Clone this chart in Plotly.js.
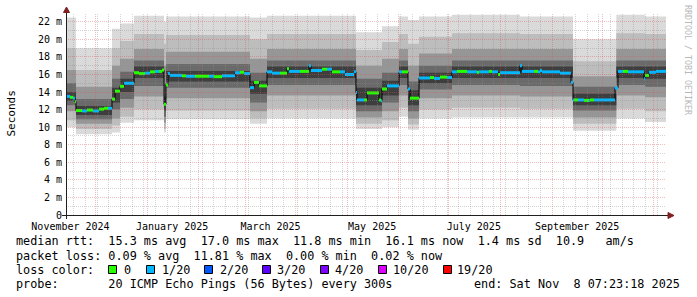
<!DOCTYPE html>
<html><head><meta charset="utf-8">
<script src="https://cdn.plot.ly/plotly-3.0.1.min.js"></script>
<style>html,body{margin:0;padding:0;background:#fff;}#chart{width:697px;height:297px;}</style>
</head><body><div id="chart"></div>
<script>
// ---------------- data ----------------
const startTime = "2024-11-13 07:23:18";
const endTime = "2025-11-08 07:23:18";

const xTickVals = ["2024-11-16","2025-01-16","2025-03-16","2025-05-16","2025-07-16","2025-09-16"];
const xTickText = ["November 2024","January 2025","March 2025","May 2025","July 2025","September 2025"];
const yTickVals = [0,2,4,6,8,10,12,14,16,18,20,22];
const yTickText = ["0","2 m","4 m","6 m","8 m","10 m","12 m","14 m","16 m","18 m","20 m","22 m"];

// smoke segments (start times) and band limits (milliseconds)
const smokeStart = ["2024-11-13 07:23","2024-11-19 07:00","2024-12-10 22:00","2024-12-15 17:00","2024-12-24 03:00",
  "2025-01-11 03:00","2025-01-12 07:00","2025-03-03 17:00","2025-03-13 22:00","2025-05-06 07:00",
  "2025-05-21 22:00","2025-06-01 03:00","2025-06-06 12:00","2025-06-13 03:00","2025-07-02 22:00",
  "2025-08-12 17:00","2025-09-13 12:00","2025-10-09 12:00","2025-10-26 17:00"];
const smokeLo1 = [10.0, 9.2, 9.4,10.5,10.8, 9.4,10.9,10.4,11.0, 9.8,10.0,11.2, 9.7,11.0,11.1,11.1, 9.6,11.0,10.6];
const smokeLo2 = [10.8, 9.8,10.2,11.2,12.0, 9.8,11.9,11.0,12.1,10.4,10.8,12.2,10.3,12.0,12.2,12.1,10.4,12.1,11.8];
const smokeLo3 = [11.8,10.4,11.0,12.2,13.5,10.5,13.3,11.8,13.6,11.1,11.8,13.6,11.0,13.3,13.6,13.5,11.1,13.6,13.4];
const smokeLo4 = [12.5,10.9,12.0,13.2,14.7,11.2,14.5,12.8,14.8,11.8,12.8,14.8,11.8,14.3,14.8,14.7,11.9,14.8,14.6];
const smokeLo5 = [13.0,11.4,12.8,14.0,15.6,11.9,15.2,13.8,15.6,12.5,13.6,15.6,12.5,15.0,15.6,15.6,12.5,15.6,15.5];
const smokeHi5 = [14.0,12.4,14.5,15.5,16.9,13.5,16.4,15.3,16.9,14.5,15.3,16.9,14.2,16.2,16.9,16.9,13.8,16.9,16.9];
const smokeHi4 = [15.0,13.2,15.5,16.3,17.6,15.0,17.2,16.2,17.6,15.5,16.2,17.6,15.2,17.0,17.6,17.6,14.6,17.6,17.6];
const smokeHi3 = [16.5,14.6,17.0,17.8,18.9,17.0,18.6,17.8,18.9,17.0,17.8,18.9,17.0,18.4,18.9,18.9,15.8,18.9,18.9];
const smokeHi2 = [19.0,16.5,19.0,19.8,20.6,19.5,20.5,20.0,20.6,18.8,19.7,20.6,19.5,20.3,20.7,20.6,17.5,20.7,20.6];
const smokeHi1 = [22.5,19.0,21.2,21.8,22.7,22.0,22.6,22.5,22.7,20.8,21.5,22.6,22.2,22.6,22.8,22.6,20.0,22.8,22.6];

// median rtt segments (ms) and lost pings (of 20)
const medStart = [
 "2024-11-13 07:23","2024-11-15 17:00","2024-11-17 12:00","2024-11-18 17:00","2024-11-19 07:00","2024-11-22 22:00","2024-11-25 22:00","2024-11-29 12:00","2024-12-03 03:00","2024-12-06 03:00",
 "2024-12-08 12:00","2024-12-10 22:00","2024-12-12 17:00","2024-12-15 17:00","2024-12-18 03:00","2024-12-24 03:00","2024-12-27 03:00","2024-12-30 17:00","2025-01-02 17:00","2025-01-05 17:00",
 "2025-01-08 03:00","2025-01-09 22:00","2025-01-11 03:00","2025-01-12 07:00","2025-01-13 12:00","2025-01-14 17:00","2025-01-21 22:00","2025-01-24 07:00","2025-01-29 17:00","2025-02-07 03:00",
 "2025-02-10 03:00","2025-02-14 22:00","2025-02-22 17:00","2025-02-25 17:00","2025-02-28 03:00","2025-03-03 17:00","2025-03-06 03:00","2025-03-09 03:00","2025-03-13 22:00","2025-03-16 22:00",
 "2025-03-21 17:00","2025-03-25 22:00","2025-03-27 03:00","2025-04-02 17:00","2025-04-08 03:00","2025-04-09 07:00","2025-04-15 22:00","2025-04-18 22:00","2025-04-21 22:00","2025-04-26 17:00",
 "2025-04-29 17:00","2025-05-05 03:00","2025-05-06 07:00","2025-05-06 22:00","2025-05-11 03:00","2025-05-12 22:00","2025-05-20 03:00","2025-05-21 07:00","2025-05-21 22:00","2025-05-24 22:00",
 "2025-06-01 03:00","2025-06-02 22:00","2025-06-06 12:00","2025-06-07 17:00","2025-06-13 03:00","2025-06-19 17:00","2025-06-22 03:00","2025-06-25 17:00","2025-06-29 22:00","2025-07-02 22:00",
 "2025-07-05 22:00","2025-07-11 22:00","2025-07-17 22:00","2025-07-19 03:00","2025-07-25 03:00","2025-07-26 22:00","2025-07-30 12:00","2025-07-31 17:00","2025-08-12 17:00","2025-08-13 22:00",
 "2025-08-21 03:00","2025-08-23 12:00","2025-08-24 17:00","2025-08-25 22:00","2025-09-05 17:00","2025-09-12 07:00","2025-09-13 12:00","2025-09-14 03:00","2025-09-16 12:00","2025-09-20 03:00",
 "2025-09-23 03:00","2025-09-23 17:00","2025-09-26 03:00","2025-10-08 17:00","2025-10-10 12:00","2025-10-13 12:00","2025-10-16 12:00","2025-10-26 03:00","2025-10-26 17:00","2025-10-29 03:00",
 "2025-11-02 07:00"];
const medRtt = [
 13.5,13.4,13.3,12.9,11.9,11.85,11.95,11.85,12.05,12.15,
 12.15,13.2,14.1,14.65,15.0,16.2,16.1,16.15,16.3,16.35,
 16.35,16.5,12.6,14.8,16.1,15.9,15.85,15.8,15.8,15.8,
 15.75,15.85,16.2,16.25,16.1,14.5,15.1,14.7,16.3,16.15,
 16.15,16.65,16.35,16.35,17.0,16.45,16.6,16.6,16.3,16.3,
 16.0,16.3,13.95,13.1,13.1,13.9,13.1,13.0,14.35,14.7,
 16.3,16.3,14.35,13.3,15.6,15.65,15.55,15.7,15.65,16.3,
 16.35,16.3,16.25,16.3,16.35,16.3,16.0,16.2,17.0,16.35,
 16.35,16.3,16.45,16.3,16.15,15.1,13.1,13.1,13.1,13.05,
 13.05,13.1,13.1,14.45,16.35,16.35,16.3,15.5,15.9,16.25,
 16.35];
const medLoss = [
 1,0,1,0,0,1,0,1,0,0,
 1,0,0,0,1,0,0,1,0,1,
 0,0,0,0,1,1,0,1,0,1,
 0,1,1,0,1,1,0,0,1,1,
 0,0,1,0,1,1,0,1,0,1,
 1,1,1,1,0,0,0,1,0,1,
 1,0,1,0,1,0,1,0,1,1,
 0,1,0,1,0,1,0,1,1,1,
 0,1,1,1,1,1,1,0,1,0,
 1,0,1,1,1,0,1,1,0,1,
 1];

const lossLevels = [0,1,2,3,4,10,19];
const lossLabels = ["0","1/20","2/20","3/20","4/20","10/20","19/20"];
const lossColors = ["#26ff00","#00b8ff","#0059ff","#5e00ff","#7e00ff","#dd00ff","#ff0000"];

const statRtt = "median rtt:  15.3 ms avg  17.0 ms max  11.8 ms min  16.1 ms now  1.4 ms sd  10.9   am/s";
const statLoss = "packet loss: 0.09 % avg  11.81 % max  0.00 % min  0.02 % now";
const probeText = "probe:       20 ICMP Echo Pings (56 Bytes) every 300s";
const endText = "end: Sat Nov  8 07:23:18 2025";

// ---------------- layout constants ----------------
const W=697,H=297,ML=66,MR=31,MT=13,MB=82,PW=W-ML-MR,PH=H-MT-MB,YMAX=23;
const MONO="DejaVu Sans Mono";
const toMs = s => Date.parse(s.replace(' ','T') + (s.length<=16?':00':'') + 'Z');
const toStr = ms => new Date(ms).toISOString().replace('T',' ').replace('Z','');
const T0 = toMs(startTime), T1 = toMs(endTime);
const PX = x => (x-ML)/PW;
const PY = y => (MT+PH-y)/PH;
const snapMs = ms => { const p=(ms-T0)/(T1-T0)*PW; const q=Math.round(p-0.5)+0.5; return toStr(T0+q/PW*(T1-T0)); };
const snapV = v => { const p=(YMAX-v)/YMAX*PH; const q=Math.round(p-0.5)+0.5; return YMAX-q/PH*YMAX; };
const nb = s => s.replace(/ /g,'\u00a0');

// ---------------- traces ----------------
const traces = [];
const sx = smokeStart.concat([endTime]);
const ext = a => a.concat([a[a.length-1]]);
const bands = [[smokeLo1,smokeHi1,"#dadada"],[smokeLo2,smokeHi2,"#bdbdbd"],[smokeLo3,smokeHi3,"#969696"],
               [smokeLo4,smokeHi4,"#6a6a6a"],[smokeLo5,smokeHi5,"#3e3e3e"]];
bands.forEach(([lo,hi,col])=>{
  traces.push({x:sx,y:ext(lo),type:'scatter',mode:'lines',line:{width:0,shape:'hv'},hoverinfo:'skip',showlegend:false});
  traces.push({x:sx,y:ext(hi),type:'scatter',mode:'lines',line:{width:0,shape:'hv'},fill:'tonexty',fillcolor:col,hoverinfo:'skip',showlegend:false});
});
const mx = medStart.concat([endTime]);
traces.push({x:mx,y:ext(medRtt),type:'scatter',mode:'lines',line:{color:'#000',width:1,shape:'hv'},hoverinfo:'skip',showlegend:false});
const colorIdx = l => { let k=0; lossLevels.forEach((v,i)=>{ if(l>=v) k=i; }); return k; };
lossLevels.forEach((lv,ci)=>{
  const xs=[],ys=[];
  medRtt.forEach((v,i)=>{ if(colorIdx(medLoss[i])===ci){ xs.push(mx[i],mx[i+1],null); ys.push(v,v,null);} });
  if(xs.length) traces.push({x:xs,y:ys,type:'scatter',mode:'lines',line:{color:lossColors[ci],width:3},connectgaps:false,hoverinfo:'skip',showlegend:false});
});

// ---------------- shapes (grid above data, axes, arrows, legend boxes) ----------------
const shapes = [];
const gridMinor = 'rgba(143,143,143,0.38)', gridMajor = 'rgba(222,79,79,0.38)';
const vline = (d,col)=>({type:'line',xref:'x',yref:'paper',x0:d,x1:d,y0:0,y1:1,layer:'above',line:{color:col,width:1,dash:'1px,1px'}});
const hline = (v,col)=>({type:'line',xref:'paper',yref:'y',x0:0,x1:1,y0:v,y1:v,layer:'above',line:{color:col,width:1,dash:'1px,1px'}});
for(let v=1; v<YMAX; v+=2) shapes.push(hline(snapV(v),gridMinor));
for(let m=Date.parse("2024-11-18T00:00:00Z"); m<T1; m+=7*86400000){ if(new Date(m).getUTCDate()!==1) shapes.push(vline(snapMs(m),gridMinor)); }
for(let v=2; v<YMAX; v+=2) shapes.push(hline(snapV(v),gridMajor));
for(let k=0;k<12;k++){ const m=Date.UTC(2024,11+k,1); if(m>T0&&m<T1) shapes.push(vline(snapMs(m),gridMajor)); }
const axisCol='#1f1f1f', arrowCol='#801f1f';
shapes.push({type:'line',xref:'paper',yref:'paper',x0:PX(62),x1:PX(670),y0:PY(215.5),y1:PY(215.5),layer:'above',line:{color:axisCol,width:1}});
shapes.push({type:'line',xref:'paper',yref:'paper',x0:PX(66.5),x1:PX(66.5),y0:PY(219),y1:PY(10),layer:'above',line:{color:axisCol,width:1}});
shapes.push({type:'path',xref:'paper',yref:'paper',layer:'above',fillcolor:arrowCol,line:{color:arrowCol,width:1},
  path:`M ${PX(668)} ${PY(212.5)} L ${PX(674)} ${PY(215.5)} L ${PX(668)} ${PY(218.5)} Z`});
shapes.push({type:'path',xref:'paper',yref:'paper',layer:'above',fillcolor:arrowCol,line:{color:arrowCol,width:1},
  path:`M ${PX(63.5)} ${PY(12.5)} L ${PX(66.5)} ${PY(7)} L ${PX(69.5)} ${PY(12.5)} Z`});

const boxX = [108,146,204,262,320,378,443];
const labX = [123,161,219,276,334,392,456];
const annotations = [];
const ann = (text,x,y,opt={}) => Object.assign({text:nb(text),xref:'paper',yref:'paper',x:PX(x),y:PY(y),xanchor:'left',yanchor:'middle',
   showarrow:false,borderpad:0,font:{family:MONO,size:11.8,color:'#000'}},opt);
annotations.push(ann(statRtt,15,241.5));
annotations.push(ann(statLoss,15,255.5));
annotations.push(ann("loss color:",15,269.5));
annotations.push(ann(probeText,15,283.5));
annotations.push(ann(endText,681,283.5,{xanchor:'right'}));
lossLabels.forEach((t,i)=>{
  shapes.push({type:'rect',xref:'paper',yref:'paper',x0:PX(boxX[i]+0.5),x1:PX(boxX[i]+8.5),y0:PY(273.5),y1:PY(265.5),layer:'above',
    fillcolor:lossColors[i],line:{color:'#000',width:1}});
  annotations.push(ann(t,labX[i],269.5));
});
annotations.push({text:"Seconds",xref:'paper',yref:'paper',x:PX(10.5),y:PY(114),xanchor:'center',yanchor:'middle',textangle:-90,
  showarrow:false,borderpad:0,font:{family:MONO,size:11,color:'#000'}});
annotations.push({text:"RRDTOOL / TOBI OETIKER",xref:'paper',yref:'paper',x:PX(688),y:PY(60),xanchor:'center',yanchor:'middle',textangle:90,
  showarrow:false,borderpad:0,font:{family:MONO,size:8.3,color:'#b8b8b8'}});

const layout = {
  width:W,height:H,margin:{l:ML,r:MR,t:MT,b:MB,pad:0},
  paper_bgcolor:'#ffffff',plot_bgcolor:'#ffffff',showlegend:false,
  xaxis:{type:'date',range:[startTime,endTime],tickmode:'array',tickvals:xTickVals,ticktext:xTickText,
    showgrid:false,zeroline:false,showline:false,ticks:'',ticklabelstandoff:4,
    tickfont:{family:MONO,size:10,color:'#000'},fixedrange:true},
  yaxis:{range:[0,YMAX],tickmode:'array',tickvals:yTickVals,ticktext:yTickText,showgrid:false,zeroline:false,showline:false,
    ticks:'',ticklabelstandoff:3,tickfont:{family:MONO,size:10,color:'#000'},fixedrange:true},
  shapes:shapes,annotations:annotations
};
Plotly.newPlot('chart',traces,layout,{displayModeBar:false,staticPlot:true});
</script></body></html>
